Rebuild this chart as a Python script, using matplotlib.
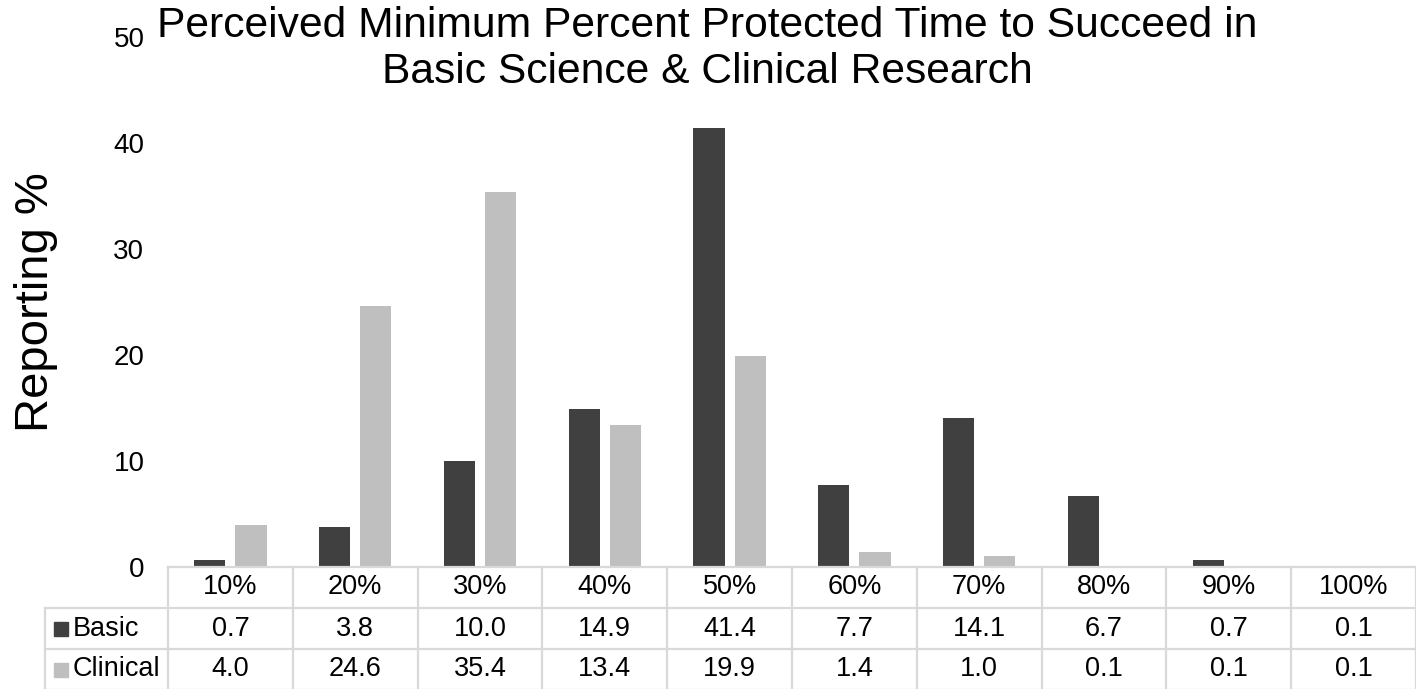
import numpy as np
import matplotlib.pyplot as plt
from matplotlib.transforms import blended_transform_factory

plt.rcParams['font.family'] = ['Liberation Sans', 'DejaVu Sans']

categories = ['10%', '20%', '30%', '40%', '50%', '60%', '70%', '80%', '90%', '100%']
basic = [0.7, 3.8, 10.0, 14.9, 41.4, 7.7, 14.1, 6.7, 0.7, 0.1]
clinical = [4.0, 24.6, 35.4, 13.4, 19.9, 1.4, 1.0, 0.1, 0.1, 0.1]
series_names = ['Basic', 'Clinical']
yticks = [0, 10, 20, 30, 40, 50]

dark = '#404040'
light = '#bfbfbf'
gridc = '#d9d9d9'

W, H = 1416, 689
fig = plt.figure(figsize=(W / 100, H / 100), dpi=100)
ax = fig.add_axes([168 / W, (H - 567) / H, 1248 / W, 530 / H])

x = np.arange(len(categories))
bw = 0.25
ax.bar(x - 0.165, basic, bw, color=dark)
ax.bar(x + 0.165, clinical, bw, color=light)

ax.set_xlim(-0.5, len(categories) - 0.5)
ax.set_ylim(0, 50)
ax.set_yticks(yticks)
ax.set_yticklabels([str(v) for v in yticks], fontsize=20)
ax.tick_params(axis='y', length=0, pad=17)
ax.set_xticks([])
for s in ax.spines.values():
    s.set_visible(False)
ax.set_ylabel('Reporting %', fontsize=34, labelpad=40)

# data table drawn under the axes
tr = blended_transform_factory(ax.transData, ax.transAxes)
ah = 530.0
rows = [0, -41 / ah, -82 / ah, -123 / ah]
left_x = -0.5 - 123 / 124.8
n = len(categories)
lk = dict(color=gridc, lw=1.6, clip_on=False, transform=tr)
ax.plot([-0.5, n - 0.5], [rows[0], rows[0]], **lk)
for r in rows[1:]:
    ax.plot([left_x, n - 0.5], [r, r], **lk)
for k in range(n + 1):
    ax.plot([k - 0.5, k - 0.5], [rows[0], rows[3]], **lk)
ax.plot([left_x, left_x], [rows[1], rows[3]], **lk)

fs = 19.5
for i, c in enumerate(categories):
    ax.text(i, (rows[0] + rows[1]) / 2, c, ha='center', va='center', fontsize=fs, transform=tr, clip_on=False)
    ax.text(i, (rows[1] + rows[2]) / 2, '%.1f' % basic[i], ha='center', va='center', fontsize=fs, transform=tr, clip_on=False)
    ax.text(i, (rows[2] + rows[3]) / 2, '%.1f' % clinical[i], ha='center', va='center', fontsize=fs, transform=tr, clip_on=False)

for j, (name, col) in enumerate(zip(series_names, [dark, light])):
    yc = (rows[j + 1] + rows[j + 2]) / 2
    ax.plot([left_x + 0.13], [yc], marker='s', ms=10, color=col, transform=tr, clip_on=False)
    ax.text(left_x + 0.225, yc, name, ha='left', va='center', fontsize=fs, transform=tr, clip_on=False)

fig.text(0.4995, 1 - 26 / H, 'Perceived Minimum Percent Protected Time to Succeed in', ha='center', va='center', fontsize=30.7)
fig.text(0.4995, 1 - 72 / H, 'Basic Science & Clinical Research', ha='center', va='center', fontsize=30.7)

fig.savefig('out.png', dpi=100)
